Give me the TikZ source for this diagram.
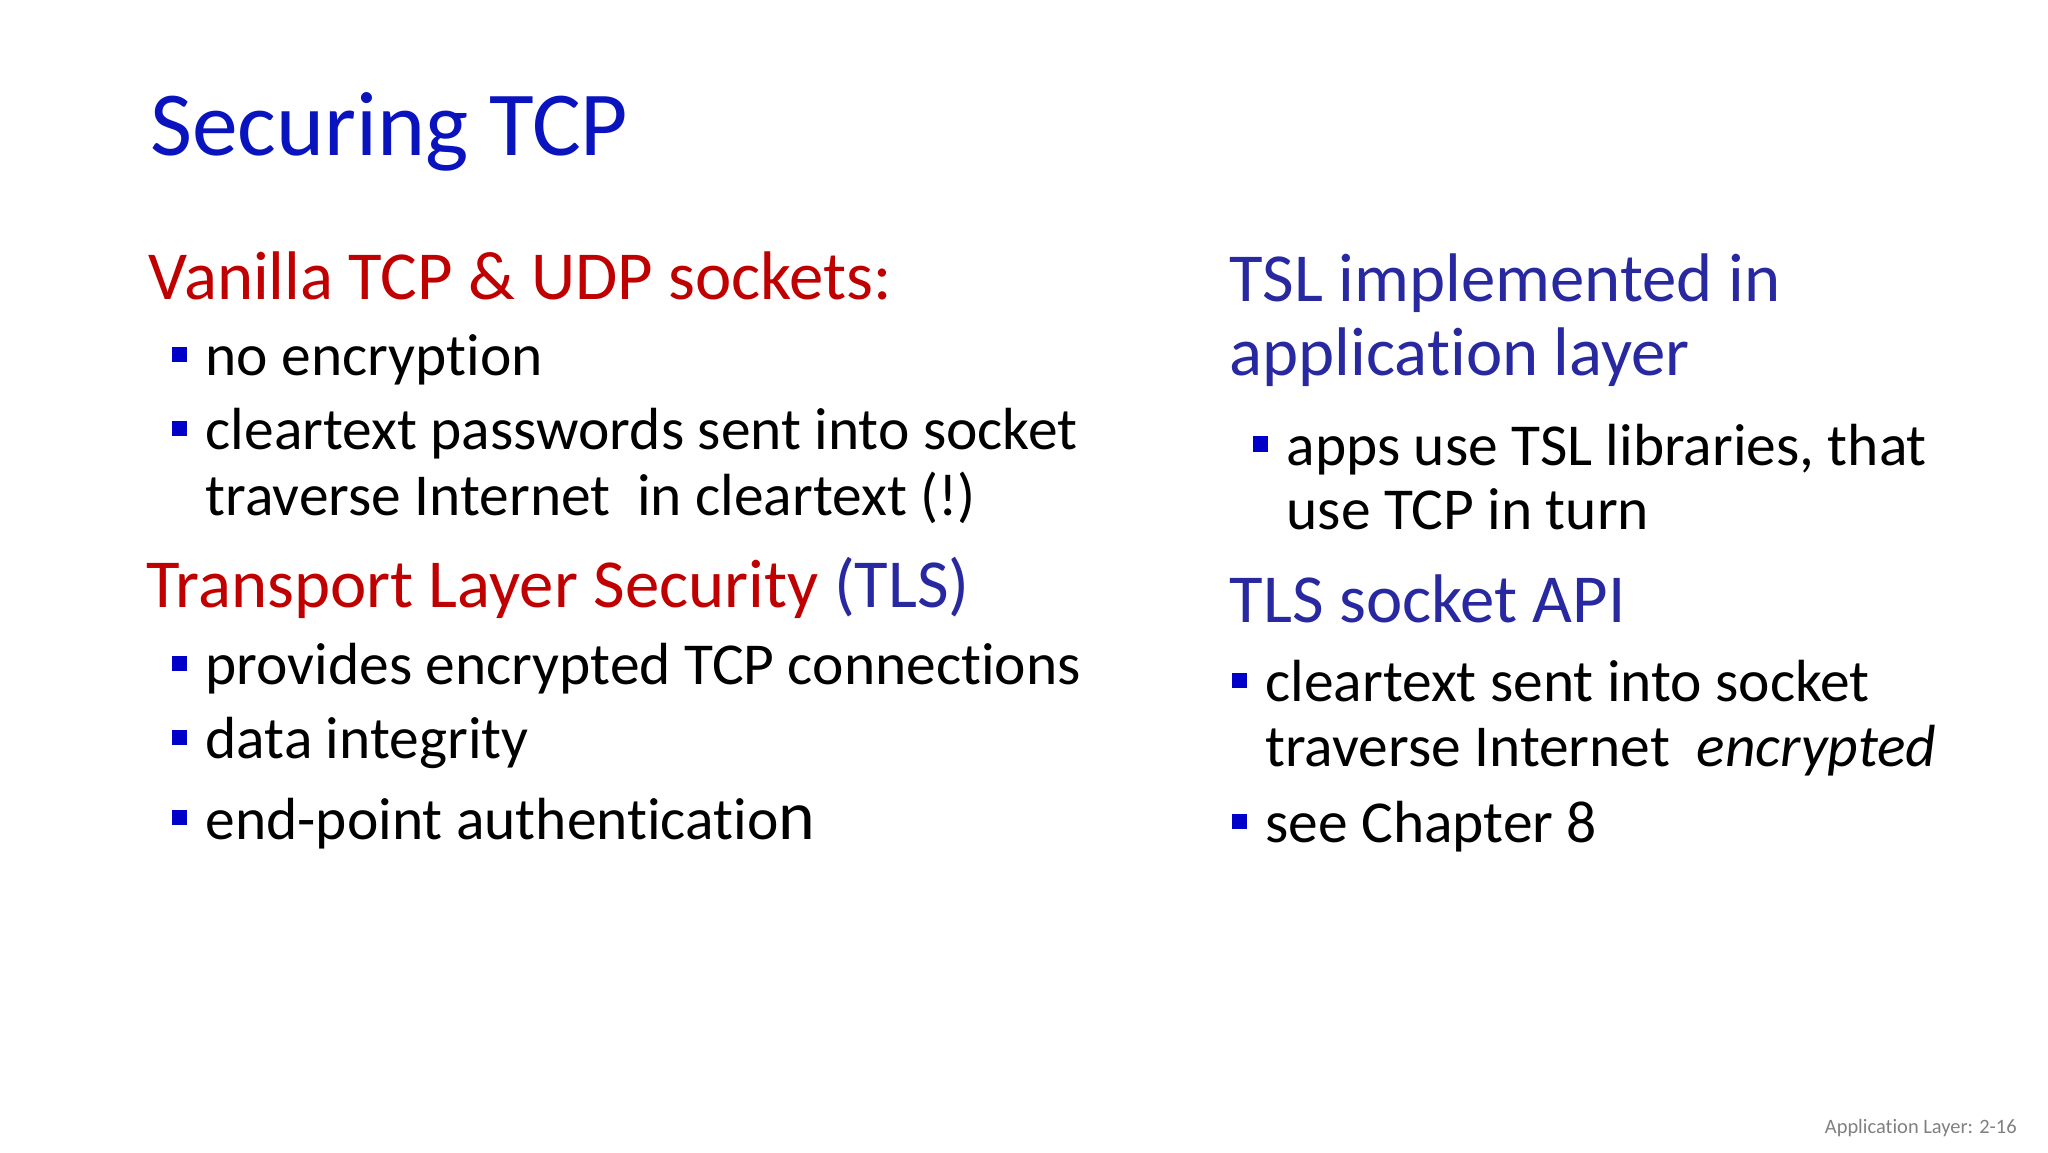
\documentclass[tikz,border=0pt]{standalone}
\usepackage{fontspec}
\setmainfont{Carlito}[Ligatures={NoCommon,NoContextual}]
\usepackage{xcolor}
\usetikzlibrary{positioning}
\definecolor{titleblue}{RGB}{10,20,190}
\definecolor{headred}{RGB}{192,0,0}
\definecolor{headblue}{RGB}{40,40,160}
\definecolor{bulblue}{RGB}{0,0,200}
\tikzset{
  txt/.style={anchor=base west, inner sep=0pt, font=\fontsize{12.8}{15}\selectfont},
  head/.style={anchor=base west, inner sep=0pt, font=\fontsize{14.8}{18}\selectfont},
  bul/.style={fill=bulblue, minimum size=0.115cm, inner sep=0pt}
}
\begin{document}
\begin{tikzpicture}[x=0.01cm, y=-0.01cm]
        \useasboundingbox (0,0) rectangle (1550,872);
        \node (title) [anchor=base west, inner sep=0pt, text=titleblue, font=\fontsize{19.7}{24}\selectfont] at (113,118) {Securing TCP};
        % left column
        \node (vanilla) [head, text=headred] at (112,227) {Vanilla TCP \& UDP sockets:};
        \node (l1) [txt] at (155,284) {no encryption};
        \node (l2) [txt] at (155,340) {cleartext passwords sent into socket};
        \node (l2b) [txt] at (155,390) {traverse Internet\ \ in cleartext (!)};
        \node (tls) [head, text=headred] at (110,460) {Transport Layer Security \textcolor{headblue}{(TLS)}};
        \node (l3) [txt] at (155,518) {provides encrypted TCP connections};
        \node (l4) [txt] at (155,574) {data integrity};
        \node (l5) [txt] at (155,635) {end-point authenticatio{\fontsize{15}{18}\selectfont n}};
        \node (b1) [bul] at (136,268) {};
        \node (b2) [bul] at (136,324) {};
        \node (b3) [bul] at (136,502) {};
        \node (b4) [bul] at (136,558) {};
        \node (b5) [bul] at (136,619) {};
        % right column
        \node (impl) [head, text=headblue] at (930,228) {TSL implemented in};
        \node (implb) [head, text=headblue] at (930,284) {application layer};
        \node (r1) [txt] at (973,352) {apps use TSL libraries, that};
        \node (r1b) [txt] at (973,401) {use TCP in turn};
        \node (api) [head, text=headblue] at (930,471) {TLS socket API};
        \node (r2) [txt] at (957,531) {cleartext sent into socket};
        \node (r2b) [txt] at (957,580) {traverse Internet\ \ \textit{encrypted}};
        \node (r3) [txt] at (957,638) {see Chapter 8};
        \node (c1) [bul] at (954,336) {};
        \node (c2) [bul] at (938,515) {};
        \node (c3) [bul] at (938,622) {};
        % footer
        \node (foot) [anchor=base east, inner sep=0pt, text=gray, font=\fontsize{4.4}{6}\selectfont] at (1527,858) {Application Layer: 2-16};
\end{tikzpicture}
\end{document}
